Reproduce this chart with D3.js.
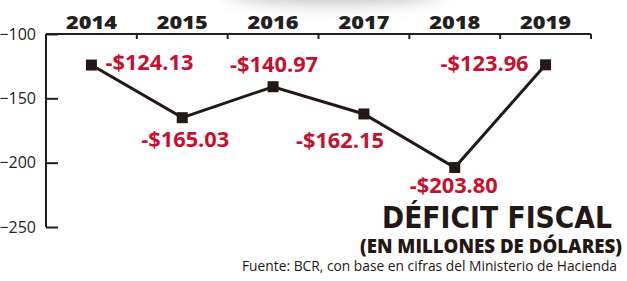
<!DOCTYPE html>
<meta charset="utf-8">
<style>
body { margin: 0; background: #fff; }
svg { display: block; }
.axis path, .axis line { stroke: #231f20; stroke-width: 2px; }
.axis text { fill: #231f20; }
.line { fill: none; stroke: #231815; stroke-width: 3px; }
.lbl { fill: #c8102e; font-family: "Open Sans", sans-serif; font-weight: 700; font-size: 21px; }
</style>
<body>
<div id="chart"></div>
<script src="https://d3js.org/d3.v7.min.js"></script>
<script>
// data
var years = ["2014", "2015", "2016", "2017", "2018", "2019"];
var deficit = [-124.13, -165.03, -140.97, -162.15, -203.80, -123.96];
var labels = ["-$124.13", "-$165.03", "-$140.97", "-$162.15", "-$203.80", "-$123.96"];
var yTicks = [-100, -150, -200, -250];

var W = 627, H = 281;
var svg = d3.select("#chart").append("svg")
    .attr("width", W).attr("height", H);

// soft shadow at the top (from the photo)
var defs = svg.append("defs");
defs.append("filter").attr("id", "blur")
  .attr("filterUnits", "userSpaceOnUse")
  .attr("x", 0).attr("y", -100).attr("width", W).attr("height", 200)
  .append("feGaussianBlur").attr("stdDeviation", 10);
svg.append("ellipse")
    .attr("cx", 335).attr("cy", -14).attr("rx", 110).attr("ry", 14)
    .attr("fill", "#8c8c8c").attr("opacity", 0.75).attr("filter", "url(#blur)");

// scales
var x = d3.scaleBand().domain(years).range([46, 591]);
var y = d3.scaleLinear().domain([-100, -250]).range([34, 227]);

// top axis with years
var xAxis = svg.append("g").attr("class", "axis")
    .attr("transform", "translate(0,34)")
    .call(d3.axisTop(x).tickSize(0).tickPadding(5));
xAxis.selectAll("text")
    .attr("textLength", 51).attr("lengthAdjust", "spacingAndGlyphs")
    .attr("x", -25.5).attr("text-anchor", "start")
    .style("font-family", "'Open Sans', sans-serif")
    .style("font-weight", 800).style("font-size", "18px");
xAxis.select(".domain").attr("d", "M46,0H591");
// boundary ticks pointing down
var bounds = years.map(function(d) { return x(d) + x.bandwidth(); });
xAxis.selectAll(".bnd").data(bounds).enter().append("line")
    .attr("class", "bnd")
    .attr("x1", function(d) { return d; }).attr("x2", function(d) { return d; })
    .attr("y1", 0).attr("y2", 5);

// left axis
var yAxis = svg.append("g").attr("class", "axis")
    .attr("transform", "translate(46,0)")
    .call(d3.axisRight(y).tickValues(yTicks).tickSize(12));
yAxis.select(".domain").attr("d", "M0,34V227");
yAxis.selectAll("text")
    .attr("x", -10).attr("text-anchor", "end")
    .style("font-family", "'Open Sans', sans-serif")
    .style("font-size", "16px");

// line
var cx = function(d, i) { return x(years[i]) + x.bandwidth() / 2; };
var line = d3.line()
    .x(cx)
    .y(function(d) { return y(d); });
svg.append("path").datum(deficit).attr("class", "line").attr("d", line);

svg.selectAll(".pt").data(deficit).enter().append("rect")
    .attr("class", "pt")
    .attr("x", function(d, i) { return cx(d, i) - 5.5; })
    .attr("y", function(d) { return y(d) - 5.5; })
    .attr("width", 11).attr("height", 11)
    .attr("fill", "#231815");

// value labels: offsets relative to each point
var offs = [[14, 5, "start"], [3, 29, "middle"], [1, -15, "middle"],
            [-24, 34, "middle"], [-1, 25, "middle"], [-17, 6, "end"]];
svg.selectAll(".lbl").data(deficit).enter().append("text")
    .attr("class", "lbl")
    .attr("x", function(d, i) { return cx(d, i) + offs[i][0]; })
    .attr("y", function(d, i) { return y(d) + offs[i][1]; })
    .attr("text-anchor", function(d, i) { return offs[i][2]; })
    .attr("textLength", 88).attr("lengthAdjust", "spacingAndGlyphs")
    .text(function(d, i) { return labels[i]; });

// title block
svg.append("text").attr("x", 612).attr("y", 228).attr("text-anchor", "end")
    .attr("textLength", 230).attr("lengthAdjust", "spacingAndGlyphs")
    .style("font-family", "'DejaVu Sans', sans-serif").style("font-weight", 700)
    .style("font-size", "30px").attr("fill", "#231815")
    .text("DÉFICIT FISCAL");
svg.append("text").attr("x", 622).attr("y", 253).attr("text-anchor", "end")
    .attr("textLength", 262).attr("lengthAdjust", "spacingAndGlyphs")
    .style("font-family", "'Open Sans', sans-serif").style("font-weight", 800)
    .style("font-size", "19px").attr("fill", "#231815")
    .text("(EN MILLONES DE DÓLARES)");
svg.append("text").attr("x", 617).attr("y", 271).attr("text-anchor", "end")
    .attr("textLength", 375).attr("lengthAdjust", "spacingAndGlyphs")
    .style("font-family", "'Open Sans', sans-serif")
    .style("font-size", "14px").attr("fill", "#231815")
    .text("Fuente: BCR, con base en cifras del Ministerio de Hacienda");
</script>
</body>
